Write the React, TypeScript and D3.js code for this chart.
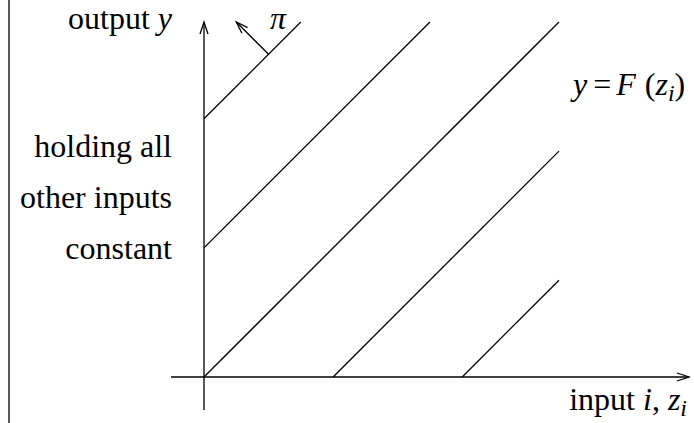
import React from "react";
import * as d3 from "d3";

// Intercepts c of the iso-profit lines y = z + c (in units of line spacing)
const lineOffsets = [2, 1, 0, -1, -2];
const extent = [0, 2.75];
const leftLabels = ["holding all", "other inputs", "constant"];
const piBase = 0.5; // x position on the top line where the π arrow starts
const piLength = 0.25;

const W = 694;
const H = 423;
const FONT = '"Liberation Serif", "Times New Roman", Times, "DejaVu Serif", serif';

function arrowHead(tx: number, ty: number, fx: number, fy: number, len = 12, half = 4) {
  const dx = tx - fx;
  const dy = ty - fy;
  const l = Math.hypot(dx, dy);
  const ux = dx / l;
  const uy = dy / l;
  const bx = tx - ux * len;
  const by = ty - uy * len;
  const px = -uy * half;
  const py = ux * half;
  return `M${bx + px},${by + py}L${tx},${ty}L${bx - px},${by - py}`;
}

export default function App() {
  const x = d3.scaleLinear().domain(extent).range([204, 559]);
  const y = d3.scaleLinear().domain(extent).range([377, 22]);
  const line = d3.line<[number, number]>().x((d) => x(d[0])).y((d) => y(d[1]));

  const segs = lineOffsets.map((c) => {
    const x0 = Math.max(extent[0], extent[0] - c);
    const x1 = Math.min(extent[1], extent[1] - c);
    return [
      [x0, x0 + c],
      [x1, x1 + c],
    ] as [number, number][];
  });

  const c0 = lineOffsets[0];
  const pb: [number, number] = [piBase, piBase + c0];
  const pt: [number, number] = [piBase - piLength, piBase + c0 + piLength];
  const pbx = x(pb[0]), pby = y(pb[1]), ptx = x(pt[0]), pty = y(pt[1]);

  const ox = x(0), oy = y(0);
  const stroke = { stroke: "#000", strokeWidth: 1.3, fill: "none" };
  const txt = { fontFamily: FONT, fill: "#000" } as React.CSSProperties;

  return (
    <svg
      width={W}
      height={H}
      style={{ position: "absolute", left: 0, top: 0, background: "#fff" }}
    >
      <line x1={9} y1={0} x2={9} y2={H} {...stroke} />
      {/* axes */}
      <line x1={ox} y1={410} x2={ox} y2={22} {...stroke} />
      <path d={arrowHead(ox, 22, ox, 410)} {...stroke} />
      <line x1={171} y1={oy} x2={689} y2={oy} {...stroke} />
      <path d={arrowHead(689, oy, 171, oy)} {...stroke} />
      {segs.map((s, i) => (
        <path key={i} d={line(s) || ""} {...stroke} />
      ))}
      <line x1={pbx} y1={pby} x2={ptx} y2={pty} {...stroke} />
      <path d={arrowHead(ptx, pty, pbx, pby)} {...stroke} />
      <text x={270} y={29} fontSize={32} fontStyle="italic" style={txt}>π</text>

      <text x={172} y={29} fontSize={32} textAnchor="end" style={txt}>
        output <tspan fontStyle="italic">y</tspan>
      </text>
      {leftLabels.map((t, i) => (
        <text key={t} x={172} y={157 + i * 51} fontSize={32} textAnchor="end" style={txt}>
          {t}
        </text>
      ))}
      <text x={573} y={95} fontSize={32} style={txt}>
        <tspan fontStyle="italic">y</tspan>
        <tspan dx={6}>=</tspan>
        <tspan dx={5} fontStyle="italic">F</tspan>
        <tspan dx={9}>(</tspan>
        <tspan fontStyle="italic">z</tspan>
        <tspan fontStyle="italic" fontSize={24} dy={6}>i</tspan>
        <tspan dy={-6}>)</tspan>
      </text>
      <text x={687} y={410} fontSize={32} textAnchor="end" style={txt}>
        input <tspan fontStyle="italic">i</tspan>, <tspan fontStyle="italic">z</tspan>
        <tspan fontStyle="italic" fontSize={24} dy={6}>i</tspan>
      </text>
    </svg>
  );
}
